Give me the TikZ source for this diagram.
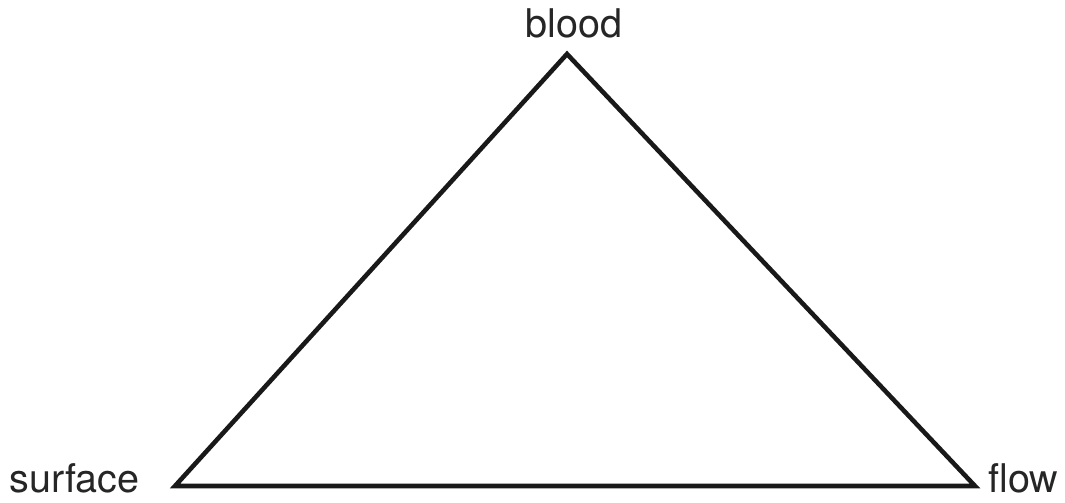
\documentclass[tikz,border=0pt]{standalone}
\usepackage{fontspec}
\setmainfont{TeX Gyre Heros}

\tikzstyle{edge} = [draw=black!90, line width=2.6pt, line join=miter]
\tikzstyle{label} = [font=\fontsize{22.5}{27}\selectfont, text=black!85, inner sep=0pt]

\begin{document}
\begin{tikzpicture}
    \useasboundingbox (0,0) rectangle (21.3,10.04);

    \coordinate (apex) at (11.34,8.96);
    \coordinate (left) at (3.50,0.32);
    \coordinate (right) at (19.50,0.32);

    \node (blood) [label, anchor=base] at (11.48,9.28) {blood};
    \node (surface) [label, anchor=base east] at (2.80,0.20) {surface};
    \node (flow) [label, anchor=base west] at (19.76,0.20) {flow};

    \draw [edge] (left) -- (apex) -- (right) -- cycle;
\end{tikzpicture}
\end{document}
